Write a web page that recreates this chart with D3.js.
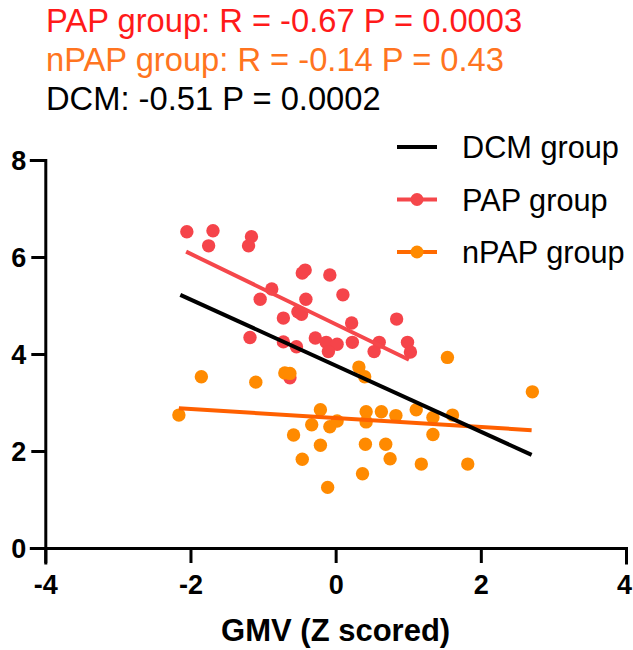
<!DOCTYPE html>
<html>
<head>
<meta charset="utf-8">
<script src="https://d3js.org/d3.v7.min.js"></script>
<style>
  body { margin: 0; background: #fff; }
  svg { display: block; font-family: Arial, "Liberation Sans", sans-serif; }
</style>
</head>
<body>
<svg id="chart" width="633" height="650"></svg>
<script>

// PAP group points (GMV z score, y value)
const papX = [-2.05, -1.69, -1.75, -1.16, -1.20, -0.88, -1.04, -0.72, -1.18, -0.72,
  -0.54, -0.42, -0.46, -0.08, 0.10, -0.41, -0.52, -0.47, -0.28, -0.13,
  0.02, -0.10, 0.22, 0.23, 0.84, 0.60, 0.53, 0.99, 1.03, -0.63];
const papY = [6.52, 6.54, 6.23, 6.42, 6.23, 5.34, 5.13, 4.74, 4.34, 4.25,
  4.15, 5.73, 5.67, 5.63, 5.22, 5.13, 4.87, 4.82, 4.33, 4.24,
  4.20, 4.05, 4.64, 4.24, 4.72, 4.24, 4.05, 4.24, 4.04, 3.51];

// nPAP group points
const npapX = [-1.85, -1.10, -2.16, -0.70, -0.63, 0.32, 0.40, -0.21, -0.33, -0.08,
  0.02, -0.58, -0.21, -0.46, -0.11, 0.42, 0.42, 0.63, 0.83, 0.41,
  0.69, 0.75, 0.37, 1.54, 2.71, 1.11, 1.34, 1.61, 1.34, 1.18, 1.82];
const npapY = [3.53, 3.42, 2.74, 3.61, 3.60, 3.73, 3.53, 2.85, 2.54, 2.50,
  2.62, 2.33, 2.12, 1.83, 1.25, 2.81, 2.60, 2.81, 2.73, 2.14,
  2.14, 1.84, 1.53, 3.93, 3.22, 2.85, 2.69, 2.74, 2.34, 1.73, 1.73];

// regression line end points
const dcmFit = [[-2.14, 5.22], [2.70, 1.92]];
const papFit = [[-2.06, 6.11], [1.01, 3.88]];
const npapFit = [[-2.16, 2.88], [2.70, 2.43]];

const xTicks = [-4, -2, 0, 2, 4];
const yTicks = [0, 2, 4, 6, 8];

const titleLines = [
  {text: "PAP group: R = -0.67 P = 0.0003", color: "#ff1a1a"},
  {text: "nPAP group: R = -0.14 P = 0.43", color: "#ff7420"},
  {text: "DCM: -0.51 P = 0.0002", color: "#000"}
];

const legendItems = [
  {name: "DCM group", color: "#000", dot: null},
  {name: "PAP group", color: "#f5474b", dot: "#f5474b"},
  {name: "nPAP group", color: "#ff6a00", dot: "#ff8a00"}
];

const RED = "#f5444a", ORANGE = "#ff8a00";

var svg = d3.select("#chart");

var x = d3.scaleLinear().domain([-4, 4]).range([45.3, 626]);
var y = d3.scaleLinear().domain([0, 8]).range([548, 160]);

// titles
svg.selectAll(".title")
  .data(titleLines)
  .enter().append("text")
  .attr("x", 46)
  .attr("y", (d, i) => 32 + i * 39)
  .attr("fill", d => d.color)
  .style("font-size", "32.7px")
  .text(d => d.text);

// points
svg.append("g").selectAll("circle")
  .data(d3.zip(papX, papY))
  .enter().append("circle")
  .attr("cx", d => x(d[0]))
  .attr("cy", d => y(d[1]))
  .attr("r", 6.7)
  .attr("fill", RED);

svg.append("g").selectAll("circle")
  .data(d3.zip(npapX, npapY))
  .enter().append("circle")
  .attr("cx", d => x(d[0]))
  .attr("cy", d => y(d[1]))
  .attr("r", 6.7)
  .attr("fill", ORANGE);

// fit lines
var line = d3.line().x(d => x(d[0])).y(d => y(d[1]));
[[papFit, "#f5474b"], [npapFit, "#ff6000"], [dcmFit, "#000"]].forEach(function (f) {
  svg.append("path")
    .attr("d", line(f[0]))
    .attr("fill", "none")
    .attr("stroke", f[1])
    .attr("stroke-width", 4);
});

// axes
var xAxis = svg.append("g")
  .attr("transform", "translate(0," + y(0) + ")")
  .call(d3.axisBottom(x).tickValues(xTicks).tickSizeOuter(0).tickSize(15).tickPadding(12)
    .tickFormat(d3.format("d")));
var yAxis = svg.append("g")
  .attr("transform", "translate(" + x(-4) + ",0)")
  .call(d3.axisLeft(y).tickValues(yTicks).tickSizeOuter(0).tickSize(14).tickPadding(5)
    .tickFormat(d3.format("d")));

[xAxis, yAxis].forEach(function (a) {
  a.select(".domain").attr("stroke-width", 3).attr("stroke-linecap", "square");
  a.selectAll(".tick line").attr("stroke-width", 3);
  a.selectAll("text")
    .attr("fill", "#000")
    .style("font-family", "Arial, 'Liberation Sans', sans-serif")
    .style("font-size", "27px")
    .style("font-weight", "bold");
});
xAxis.selectAll(".tick text").text(d => d < 0 ? "-" + Math.abs(d) : d);
// keep the last label inside the page
xAxis.selectAll(".tick text").filter(d => d === 4).attr("dx", -2);
yAxis.selectAll(".tick text").attr("dy", "0.36em");

svg.append("text")
  .attr("x", x(0))
  .attr("y", 641)
  .attr("text-anchor", "middle")
  .style("font-size", "31px")
  .style("font-weight", "bold")
  .text("GMV (Z scored)");

// legend
var leg = svg.append("g").selectAll("g")
  .data(legendItems)
  .enter().append("g")
  .attr("transform", (d, i) => "translate(0," + (147 + i * 52.5) + ")");

leg.append("line")
  .attr("x1", 397).attr("x2", 437)
  .attr("stroke", d => d.color)
  .attr("stroke-width", 4);
leg.filter(d => d.dot).append("circle")
  .attr("cx", 417)
  .attr("r", 6.5)
  .attr("fill", d => d.dot);
leg.append("text")
  .attr("x", 462)
  .attr("y", 11)
  .style("font-size", "30.7px")
  .text(d => d.name);

</script>
</body>
</html>
